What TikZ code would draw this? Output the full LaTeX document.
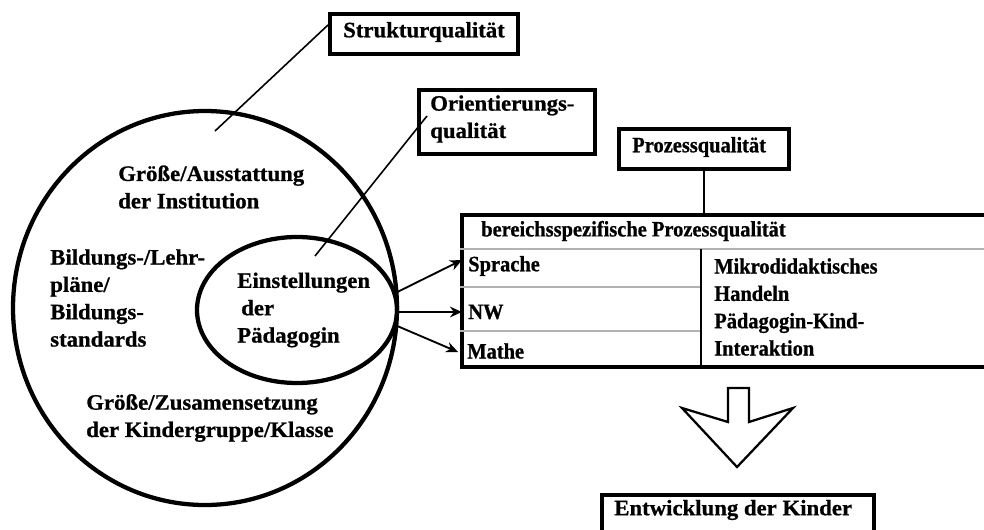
\documentclass[tikz,border=0pt]{standalone}
\usepackage{fontspec}
\setmainfont{Liberation Serif}
\newfontfamily\widefont[FakeStretch=1.035,BoldFeatures={FakeBold=0.8}]{Liberation Serif}
\newfontfamily\narrowfont[FakeStretch=0.93,BoldFeatures={FakeBold=0.8}]{Liberation Serif}
\usetikzlibrary{arrows.meta,shapes.geometric}
\begin{document}
\begin{tikzpicture}[x=0.75pt,y=-0.75pt,
  every node/.style={font=\widefont\fontsize{16.5}{20.5}\selectfont\bfseries},
  txt/.style={anchor=west,inner sep=0pt,align=left},
  ntxt/.style={txt,font=\narrowfont\fontsize{16.5}{20.5}\selectfont\bfseries},
  frame/.style={draw,line width=2.7pt,anchor=north west,inner sep=0pt},
  ring/.style={draw,line width=3.2pt,ellipse,inner sep=0pt},
  thin/.style={line width=1.2pt},
  grid/.style={line width=1pt,draw=black!30},
  arr/.style={line width=1.4pt,-{Stealth[length=9pt,width=8pt]}}]
\clip (0,0) rectangle (984,529);
\fill[white] (0,0) rectangle (984,529);

% outer and inner circles
\node[ring,minimum width=288pt,minimum height=295.5pt] (outer) at (205,308) {};
\node[ring,minimum width=150pt,minimum height=109.5pt] (ein) at (297,310) {};

% quality boxes
\node[frame,minimum width=141pt,minimum height=30pt] (sq) at (328,12) {};
\node[frame,minimum width=132pt,minimum height=48pt] (oq) at (417,88) {};
\node[frame,minimum width=127.5pt,minimum height=30pt] (pq) at (617,127) {};
\node[frame,minimum width=405pt,minimum height=114pt] (tab) at (460,213) {};
\node[frame,minimum width=204pt,minimum height=45pt] (ent) at (600,493) {};

% table rules
\draw[grid] (460,249) -- (1000,249);
\draw[grid] (460,287) -- (701,287);
\draw[grid] (460,331) -- (701,331);
\draw[line width=1.7pt] (701,249) -- (701,365);

% texts
\node[txt] at (343,32) {Strukturqualität};
\node[txt] at (430,119) {Orientierungs-\\qualität};
\node[ntxt] at (632,147) {Prozessqualität};
\node[txt] at (118,187) {Größe/Ausstattung\\der Institution};
\node[txt] at (50,298) {Bildungs-/Lehr-\\pläne/\\Bildungs-\\standards};
\node[txt] at (237,310) {Einstellungen\\\hspace{3pt}der\\Pädagogin};
\node[txt] at (86,418) {Größe/Zusamensetzung\\der Kindergruppe/Klasse};
\node[ntxt] at (481,231) {bereichsspezifische Prozessqualität};
\node[ntxt] (spr) at (468,266) {Sprache};
\node[ntxt] (nw) at (468,312) {NW};
\node[ntxt] (ma) at (467,351) {Mathe};
\node[ntxt] at (714,307) {Mikrodidaktisches\\Handeln\\Pädagogin-Kind-\\Interaktion};
\node[txt] at (614,510) {Entwicklung der Kinder};

% connectors to the quality boxes
\coordinate (sqin) at (215,131);
\coordinate (sqend) at (328,25);
\draw[thin] (sqin) -- (sqend);
\coordinate (oqin) at (315,256);
\coordinate (oqend) at (427,116);
\draw[thin] (oqin) -- (oqend);
\draw[thin] (pq.south) -- (pq.south |- tab.north);

% arrows into the table
\coordinate (a1) at (462,260);
\coordinate (a2) at (462,312);
\coordinate (a3) at (458,352);
\draw[arr] (ein.10) -- (a1);
\draw[arr] (ein.east |- a2) -- (a2);
\draw[arr] (ein.-9) -- (a3);

% block arrow towards development
\draw[line width=1.7pt,line join=miter] (728,388) -- (749,388) -- (749,422) -- (793,408)
  -- (737,467) -- (682,408) -- (728,422) -- cycle;
\end{tikzpicture}
\end{document}
